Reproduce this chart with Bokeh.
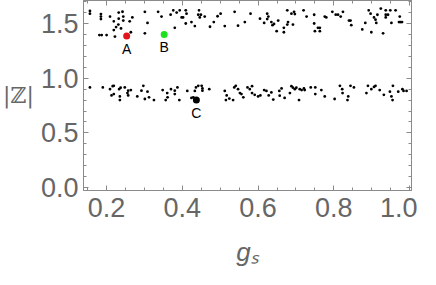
from bokeh.plotting import figure
from bokeh.models import (Range1d, LinearAxis, SingleIntervalTicker, PrintfTickFormatter, Label,
                          CustomJSTickFormatter)
from bokeh.embed import file_html
from bokeh.resources import INLINE

# upper band (g_s, |Z|)
up_x = [0.156, 0.156, 0.185, 0.185, 0.185, 0.209, 0.219, 0.232, 0.242, 0.244, 0.232, 0.244, 0.261, 0.268,
        0.231, 0.225, 0.219, 0.238, 0.264, 0.181, 0.187, 0.200, 0.222, 0.301, 0.308, 0.301,
        0.336, 0.345, 0.369, 0.376, 0.385, 0.393, 0.398, 0.402, 0.409, 0.411, 0.409, 0.380,
        0.424, 0.433, 0.442, 0.449, 0.446, 0.444, 0.459, 0.473, 0.483, 0.493, 0.501, 0.512, 0.538, 0.547, 0.565, 0.580,
        0.605, 0.616, 0.624, 0.627, 0.624, 0.635, 0.638, 0.642, 0.649, 0.653, 0.668, 0.668, 0.677, 0.679, 0.677,
        0.688, 0.695, 0.697, 0.692, 0.720, 0.728, 0.748, 0.748, 0.750, 0.758, 0.763, 0.763, 0.776, 0.780,
        0.796, 0.805, 0.811, 0.818, 0.824, 0.840, 0.844, 0.846, 0.875, 0.883, 0.892, 0.897, 0.899, 0.906,
        0.910, 0.912, 0.915, 0.924, 0.930, 0.937, 0.937, 0.937, 0.943, 0.949, 0.952, 0.963, 0.974, 0.972, 0.976, 0.980]
up_y = [1.615, 1.590, 1.586, 1.563, 1.540, 1.563, 1.520, 1.600, 1.607, 1.563, 1.544, 1.527, 1.520, 1.555,
        1.490, 1.467, 1.440, 1.455, 1.420, 1.394, 1.394, 1.394, 1.380, 1.607, 1.505, 1.410,
        1.607, 1.563, 1.580, 1.620, 1.600, 1.620, 1.555, 1.555, 1.620, 1.590, 1.500, 1.460,
        1.513, 1.476, 1.580, 1.580, 1.555, 1.620, 1.563, 1.470, 1.513, 1.566, 1.590, 1.476, 1.607, 1.480, 1.513, 1.590,
        1.544, 1.505, 1.590, 1.563, 1.540, 1.513, 1.485, 1.496, 1.430, 1.527, 1.460, 1.420, 1.490, 1.513, 1.620,
        1.590, 1.607, 1.586, 1.490, 1.620, 1.563, 1.580, 1.500, 1.430, 1.460, 1.460, 1.430, 1.563, 1.555,
        1.607, 1.580, 1.580, 1.563, 1.607, 1.527, 1.527, 1.485, 1.446, 1.505, 1.620, 1.590, 1.420, 1.555,
        1.535, 1.505, 1.580, 1.636, 1.410, 1.620, 1.580, 1.555, 1.580, 1.620, 1.505, 1.620, 1.563, 1.513, 1.513, 1.513]

# lower band
lo_x = [0.156, 0.190, 0.209, 0.216, 0.219, 0.213, 0.219, 0.233, 0.235, 0.235, 0.237, 0.248, 0.255, 0.257, 0.257,
        0.264, 0.281, 0.292, 0.297, 0.301, 0.308, 0.312, 0.325, 0.348, 0.356, 0.360, 0.361, 0.370, 0.380, 0.380,
        0.387, 0.392, 0.413, 0.424, 0.429, 0.433, 0.436, 0.442, 0.451, 0.453, 0.453, 0.471, 0.512, 0.517, 0.515,
        0.524, 0.534, 0.537, 0.541, 0.547, 0.552, 0.556, 0.561, 0.572, 0.578, 0.584, 0.584, 0.591, 0.600, 0.606,
        0.616, 0.622, 0.628, 0.635, 0.640, 0.656, 0.657, 0.662, 0.670, 0.684, 0.688, 0.692, 0.697, 0.701, 0.710,
        0.715, 0.708, 0.721, 0.723, 0.739, 0.751, 0.751, 0.767, 0.776, 0.802, 0.816, 0.822, 0.823, 0.838, 0.836,
        0.844, 0.853, 0.886, 0.890, 0.899, 0.906, 0.910, 0.921, 0.932, 0.948, 0.952, 0.955, 0.956, 0.970, 0.981,
        0.984, 0.992]
lo_y = [0.916, 0.916, 0.900, 0.927, 0.930, 0.843, 0.855, 0.900, 0.834, 0.800, 0.913, 0.916, 0.864, 0.843, 0.886,
        0.892, 0.834, 0.886, 0.930, 0.810, 0.877, 0.825, 0.800, 0.892, 0.800, 0.864, 0.825, 0.900, 0.886, 0.855,
        0.916, 0.800, 0.884, 0.820, 0.825, 0.884, 0.916, 0.930, 0.930, 0.907, 0.886, 0.900, 0.884, 0.843, 0.800,
        0.814, 0.800, 0.916, 0.930, 0.900, 0.864, 0.855, 0.825, 0.916, 0.900, 0.927, 0.864, 0.848, 0.834, 0.843,
        0.892, 0.884, 0.843, 0.870, 0.805, 0.884, 0.840, 0.907, 0.820, 0.864, 0.927, 0.913, 0.900, 0.913, 0.900,
        0.892, 0.800, 0.907, 0.892, 0.916, 0.916, 0.855, 0.892, 0.834, 0.810, 0.930, 0.900, 0.864, 0.834, 0.800,
        0.930, 0.916, 0.864, 0.930, 0.900, 0.920, 0.930, 0.892, 0.848, 0.877, 0.834, 0.800, 0.930, 0.877, 0.900,
        0.884, 0.884]

# highlighted points
hi_names = ["A", "B", "C"]
hi_x = [0.253, 0.352, 0.437]
hi_y = [1.385, 1.400, 0.800]
hi_colors = ["#e3141b", "#1fe01f", "#000000"]

x_ticks_interval = 0.2
y_ticks_interval = 0.5
x_title = "g\u209b"
y_title = "|\u2124|"

GRAY_TXT = "#666666"
GRAY_LN = "#8a8a8a"
FONT = "Liberation Sans"

p = figure(frame_width=328, frame_height=190, output_backend="svg", toolbar_location=None,
           x_range=Range1d(0.139, 1.005), y_range=Range1d(-0.026, 1.71),
           min_border_left=79, min_border_right=6, min_border_top=0, min_border_bottom=40,
           x_axis_location=None, y_axis_location=None)
p.grid.visible = False
p.outline_line_color = GRAY_LN
p.background_fill_color = "white"
p.border_fill_color = "white"

blank = CustomJSTickFormatter(code="return ''")

def mk_axis(ticker, labels=True):
    ax = LinearAxis(ticker=ticker, formatter=PrintfTickFormatter(format="%.1f") if labels else blank)
    ax.axis_line_color = GRAY_LN
    ax.major_tick_line_color = GRAY_LN
    ax.minor_tick_line_color = GRAY_LN
    ax.major_tick_in = 5
    ax.major_tick_out = 0
    ax.minor_tick_in = 3
    ax.minor_tick_out = 0
    if labels:
        ax.major_label_text_font = FONT
        ax.major_label_text_font_size = "27px"
        ax.major_label_text_color = GRAY_TXT
    else:
        ax.major_label_text_font_size = "1px"
        ax.major_label_standoff = 0
    return ax

xb = mk_axis(SingleIntervalTicker(interval=x_ticks_interval, num_minor_ticks=4))
xb.major_label_standoff = 7
xb.axis_label = x_title
xb.axis_label_text_font = FONT
xb.axis_label_text_font_style = "italic"
xb.axis_label_text_font_size = "26px"
xb.axis_label_text_color = GRAY_TXT
xb.axis_label_standoff = 17

yl = mk_axis(SingleIntervalTicker(interval=y_ticks_interval, num_minor_ticks=5))
yl.major_label_standoff = 5
yl.axis_label = y_title
yl.axis_label_orientation = "horizontal"
yl.axis_label_text_font = "DejaVu Serif"
yl.axis_label_text_font_style = "normal"
yl.axis_label_text_font_size = "22px"
yl.axis_label_text_color = GRAY_TXT
yl.axis_label_standoff = 4

xt = mk_axis(SingleIntervalTicker(interval=x_ticks_interval, num_minor_ticks=4), labels=False)
yr = mk_axis(SingleIntervalTicker(interval=y_ticks_interval, num_minor_ticks=5), labels=False)
p.add_layout(xb, "below")
p.add_layout(yl, "left")
p.add_layout(xt, "above")
p.add_layout(yr, "right")

p.scatter(up_x, up_y, size=2.8, color="black", line_width=0)
p.scatter(lo_x, lo_y, size=2.8, color="black", line_width=0)
p.scatter(hi_x, hi_y, size=7, color=hi_colors, line_width=0)

for n, xx, yy in zip(hi_names, hi_x, hi_y):
    p.add_layout(Label(x=xx, y=yy, text=n, text_align="center", text_baseline="top",
                       y_offset=-5, text_font=FONT, text_font_size="14px", text_color="black"))

open("out.html", "w").write(file_html(p, INLINE))
